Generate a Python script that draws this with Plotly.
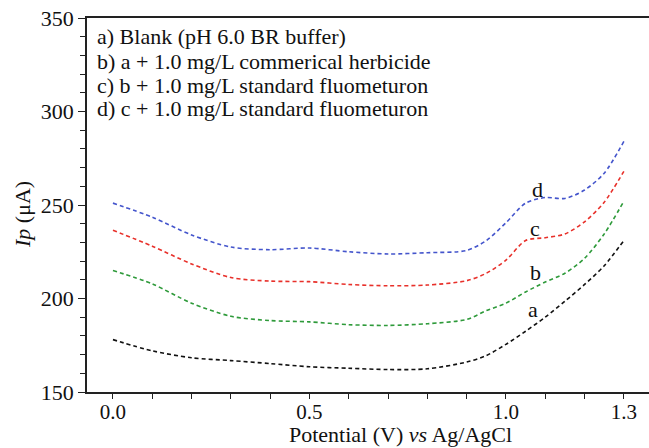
import plotly.graph_objects as go

# Potential (V vs Ag/AgCl)
potential = [0.0, 0.1, 0.2, 0.3, 0.4, 0.5, 0.6, 0.7, 0.8, 0.9, 0.95, 1.0,
             1.05, 1.1, 1.15, 1.2, 1.25, 1.3]

# Peak current (uA) for each voltammogram
curve_a = [178.0, 172.0, 168.3, 166.8, 165.2, 163.5, 162.7, 162.0, 162.4, 166.0,
           169.5, 175.5, 182.5, 190.0, 198.5, 207.5, 217.5, 231.0]
curve_b = [215.0, 207.8, 197.5, 190.5, 188.2, 187.5, 186.0, 185.6, 186.5, 188.8,
           193.5, 197.5, 203.5, 208.8, 213.5, 221.5, 234.5, 252.0]
curve_c = [236.5, 228.0, 218.5, 211.2, 209.3, 209.0, 207.5, 206.8, 207.2, 209.5,
           213.5, 220.5, 231.0, 232.5, 234.5, 241.0, 251.5, 268.0]
curve_d = [251.0, 243.5, 234.0, 227.5, 226.1, 227.0, 225.0, 223.8, 224.5, 225.7,
           231.0, 240.5, 251.0, 254.0, 253.5, 258.0, 267.0, 284.0]

series_names = ["a", "b", "c", "d"]
series_values = [curve_a, curve_b, curve_c, curve_d]
series_colors = ["#111111", "#2e9a3a", "#e8302a", "#4455cc"]

legend_lines = [
    "a) Blank (pH 6.0 BR buffer)",
    "b) a + 1.0 mg/L commerical herbicide",
    "c) b + 1.0 mg/L standard fluometuron",
    "d) c + 1.0 mg/L standard fluometuron",
]

# curve tag positions (potential, current)
tag_x = [1.068, 1.075, 1.075, 1.08]
tag_y = [194, 214, 237.5, 258.5]

x_tickvals = [0.0, 0.5, 1.0, 1.3]
x_ticktext = ["0.0", "0.5", "1.0", "1.3"]
y_tickvals = [150, 200, 250, 300, 350]

FONT = "Liberation Serif, Times New Roman, serif"

fig = go.Figure()
for name, vals, col in zip(series_names, series_values, series_colors):
    fig.add_trace(go.Scatter(
        x=potential, y=vals, mode="lines", name=name,
        line=dict(color=col, width=1.6, dash="4px,3px", shape="spline", smoothing=0.8),
        showlegend=False,
    ))

annotations = []
for i, txt in enumerate(legend_lines):
    annotations.append(dict(
        xref="paper", yref="paper", x=(95 - 87) / 562.0, y=1 - (19 + 24 * i) / 374.0,
        xanchor="left", yanchor="middle", text=txt, showarrow=False,
        font=dict(family=FONT, size=22, color="#111"),
    ))
for name, tx, ty in zip(series_names, tag_x, tag_y):
    annotations.append(dict(
        x=tx, y=ty, text=name, showarrow=False, xanchor="center", yanchor="middle",
        font=dict(family=FONT, size=22, color="#111"),
    ))
annotations.append(dict(
    xref="paper", yref="paper", x=(400 - 87) / 562.0, y=-(448 - 392) / 374.0,
    xanchor="center", yanchor="bottom", showarrow=False, borderpad=0,
    text="Potential (V) <i>vs</i> Ag/AgCl",
    font=dict(family=FONT, size=22, color="#111"),
))
annotations.append(dict(
    xref="paper", yref="paper", x=-(87 - 22) / 562.0, y=(392 - 215) / 374.0,
    xanchor="center", yanchor="middle", showarrow=False, textangle=-90,
    text="<i>Ip</i> (μA)",
    font=dict(family=FONT, size=22, color="#111"),
))

fig.update_layout(
    width=649, height=448,
    margin=dict(l=87, r=0, t=18, b=56),
    paper_bgcolor="white", plot_bgcolor="white",
    annotations=annotations,
    xaxis=dict(
        range=[-0.066, 1.364], tickvals=x_tickvals, ticktext=x_ticktext,
        showgrid=False, zeroline=False, showline=True, linecolor="#222", linewidth=1.5,
        mirror=True, ticks="outside", ticklen=5, tickwidth=1.3, tickcolor="#222",
        ticklabelstandoff=-5,
        minor=dict(dtick=0.1, tick0=0, ticks="outside", ticklen=5, tickwidth=1.2, tickcolor="#222"),
        tickfont=dict(family=FONT, size=21, color="#111"),
    ),
    yaxis=dict(
        range=[150, 350], tickvals=y_tickvals,
        showgrid=False, zeroline=False, showline=True, linecolor="#222", linewidth=1.5,
        ticks="outside", ticklen=7, tickwidth=1.3, tickcolor="#222",
        minor=dict(dtick=10, tick0=150, ticks="outside", ticklen=5, tickwidth=1.2, tickcolor="#222"),
        tickfont=dict(family=FONT, size=22, color="#111"),
    ),
)

fig.write_html("out.html")
